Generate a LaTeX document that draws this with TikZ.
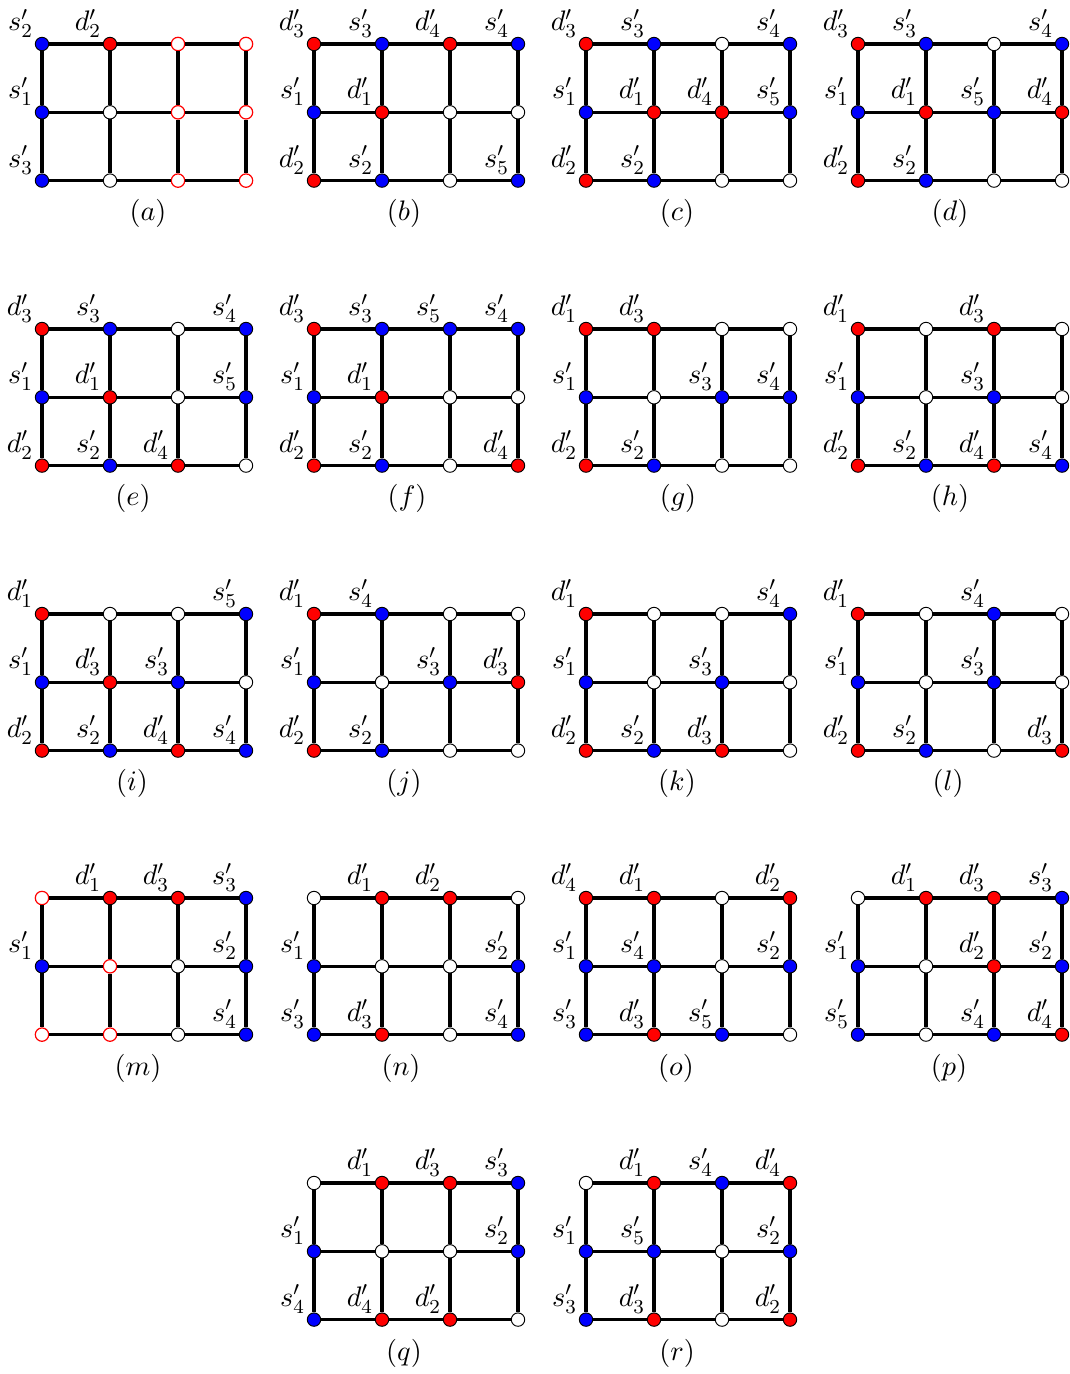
\RequirePackage{fix-cm}
\documentclass[tikz,border=0pt]{standalone}
\def\nolab{-}
\tikzset{
  every node/.style={font=\fontsize{11.8}{14}\selectfont},
  vbase/.style={circle, minimum size=5.6pt, inner sep=0pt, line width=0.4pt},
  vb/.style={vbase, draw=black, fill=blue},
  vr/.style={vbase, draw=black, fill=red},
  vw/.style={vbase, draw=black, fill=white},
  vo/.style={vbase, draw=red, fill=white, line width=0.5pt},
  gridline/.style={line width=1.35pt, black},
  vlab/.style={anchor=south east, inner sep=0pt},
  subcap/.style={anchor=center, inner sep=0pt}
}
\newcommand\gridfig[4]{%
  \foreach \t/\l [count=\k from 0] in {#4} {
    \pgfmathtruncatemacro\ci{mod(\k,4)}
    \pgfmathtruncatemacro\cj{\k/4}
    \node[v\t] (#1-\ci-\cj) at ({#2+68*\ci},{#3+68.3*\cj}) {};
    \ifx\l\nolab\else
      \node[vlab] (#1-l-\ci-\cj) at ([xshift=-3.5pt,yshift=2.5pt]#1-\ci-\cj.center) {$\l$};
    \fi
  }
  \foreach \j in {0,1,2} {\foreach \i/\ii in {0/1,1/2,2/3} {\draw[gridline] (#1-\i-\j) -- (#1-\ii-\j);}}
  \foreach \i in {0,1,2,3} {\foreach \j/\jj in {0/1,1/2} {\draw[gridline] (#1-\i-\j) -- (#1-\i-\jj);}}
}
\begin{document}
\begin{tikzpicture}[x=0.0147cm, y=-0.0147cm]
\useasboundingbox (0,0) rectangle (1069,1374);
% row 1
\gridfig{a}{42}{44}{b/s'_2,r/d'_2,o/-,o/-,
  b/s'_1,w/-,o/-,o/-,
  b/s'_3,w/-,o/-,o/-}
\node[subcap] (cap-a) at (148,213) {$(a)$};
\gridfig{b}{314}{44}{r/d'_3,b/s'_3,r/d'_4,b/s'_4,
  b/s'_1,r/d'_1,w/-,w/-,
  r/d'_2,b/s'_2,w/-,b/s'_5}
\node[subcap] (cap-b) at (404,213) {$(b)$};
\gridfig{c}{586}{44}{r/d'_3,b/s'_3,w/-,b/s'_4,
  b/s'_1,r/d'_1,r/d'_4,b/s'_5,
  r/d'_2,b/s'_2,w/-,w/-}
\node[subcap] (cap-c) at (677,213) {$(c)$};
\gridfig{d}{858}{44}{r/d'_3,b/s'_3,w/-,b/s'_4,
  b/s'_1,r/d'_1,b/s'_5,r/d'_4,
  r/d'_2,b/s'_2,w/-,w/-}
\node[subcap] (cap-d) at (950,213) {$(d)$};
% row 2
\gridfig{e}{42}{329}{r/d'_3,b/s'_3,w/-,b/s'_4,
  b/s'_1,r/d'_1,w/-,b/s'_5,
  r/d'_2,b/s'_2,r/d'_4,w/-}
\node[subcap] (cap-e) at (133,498) {$(e)$};
\gridfig{f}{314}{329}{r/d'_3,b/s'_3,b/s'_5,b/s'_4,
  b/s'_1,r/d'_1,w/-,w/-,
  r/d'_2,b/s'_2,w/-,r/d'_4}
\node[subcap] (cap-f) at (407,498) {$(f)$};
\gridfig{g}{586}{329}{r/d'_1,r/d'_3,w/-,w/-,
  b/s'_1,w/-,b/s'_3,b/s'_4,
  r/d'_2,b/s'_2,w/-,w/-}
\node[subcap] (cap-g) at (678,498) {$(g)$};
\gridfig{h}{858}{329}{r/d'_1,w/-,r/d'_3,w/-,
  b/s'_1,w/-,b/s'_3,w/-,
  r/d'_2,b/s'_2,r/d'_4,b/s'_4}
\node[subcap] (cap-h) at (950,498) {$(h)$};
% row 3
\gridfig{i}{42}{614}{r/d'_1,w/-,w/-,b/s'_5,
  b/s'_1,r/d'_3,b/s'_3,w/-,
  r/d'_2,b/s'_2,r/d'_4,b/s'_4}
\node[subcap] (cap-i) at (132,783) {$(i)$};
\gridfig{j}{314}{614}{r/d'_1,b/s'_4,w/-,w/-,
  b/s'_1,w/-,b/s'_3,r/d'_3,
  r/d'_2,b/s'_2,w/-,w/-}
\node[subcap] (cap-j) at (404,783) {$(j)$};
\gridfig{k}{586}{614}{r/d'_1,w/-,w/-,b/s'_4,
  b/s'_1,w/-,b/s'_3,w/-,
  r/d'_2,b/s'_2,r/d'_3,w/-}
\node[subcap] (cap-k) at (677,783) {$(k)$};
\gridfig{l}{858}{614}{r/d'_1,w/-,b/s'_4,w/-,
  b/s'_1,w/-,b/s'_3,w/-,
  r/d'_2,b/s'_2,w/-,r/d'_3}
\node[subcap] (cap-l) at (948,783) {$(l)$};
% row 4
\gridfig{m}{42}{898}{o/-,r/d'_1,r/d'_3,b/s'_3,
  b/s'_1,o/-,w/-,b/s'_2,
  o/-,o/-,w/-,b/s'_4}
\node[subcap] (cap-m) at (138,1068) {$(m)$};
\gridfig{n}{314}{898}{w/-,r/d'_1,r/d'_2,w/-,
  b/s'_1,w/-,w/-,b/s'_2,
  b/s'_3,r/d'_3,w/-,b/s'_4}
\node[subcap] (cap-n) at (401,1068) {$(n)$};
\gridfig{o}{586}{898}{r/d'_4,r/d'_1,w/-,r/d'_2,
  b/s'_1,b/s'_4,w/-,b/s'_2,
  b/s'_3,r/d'_3,b/s'_5,w/-}
\node[subcap] (cap-o) at (676,1068) {$(o)$};
\gridfig{p}{858}{898}{w/-,r/d'_1,r/d'_3,b/s'_3,
  b/s'_1,w/-,r/d'_2,b/s'_2,
  b/s'_5,w/-,b/s'_4,r/d'_4}
\node[subcap] (cap-p) at (949,1068) {$(p)$};
% row 5
\gridfig{q}{314}{1183}{w/-,r/d'_1,r/d'_3,b/s'_3,
  b/s'_1,w/-,w/-,b/s'_2,
  b/s'_4,r/d'_4,r/d'_2,w/-}
\node[subcap] (cap-q) at (404,1353) {$(q)$};
\gridfig{r}{586}{1183}{w/-,r/d'_1,b/s'_4,r/d'_4,
  b/s'_1,b/s'_5,w/-,b/s'_2,
  b/s'_3,r/d'_3,w/-,r/d'_2}
\node[subcap] (cap-r) at (677,1353) {$(r)$};
\end{tikzpicture}
\end{document}
